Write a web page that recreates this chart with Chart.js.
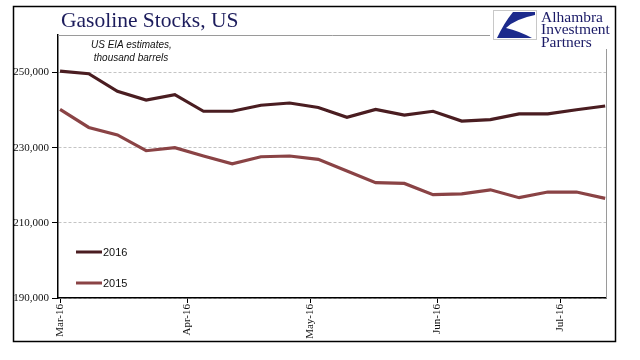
<!DOCTYPE html>
<html>
<head>
<meta charset="utf-8">
<script src="https://cdn.jsdelivr.net/npm/chart.js@4"></script>
<style>
html,body{margin:0;padding:0;background:#fff;}
#wrap{position:relative;width:640px;height:360px;overflow:hidden;}
#c{position:absolute;left:0;top:0;}
#title{position:absolute;left:61px;top:10px;font-family:"Liberation Serif",serif;font-size:21.5px;line-height:21px;color:#1c1c5c;white-space:nowrap;}
#note{position:absolute;left:91px;top:38px;font-family:"Liberation Sans",sans-serif;font-style:italic;font-size:10px;line-height:13px;color:#111;white-space:nowrap;}
#logo{position:absolute;left:490px;top:8px;width:123px;height:41px;background:#fff;}
#logotext{position:absolute;left:51px;top:2.5px;font-family:"Liberation Serif",serif;font-size:15.5px;line-height:12.5px;color:#1a1a66;white-space:nowrap;}
</style>
</head>
<body>
<div id="wrap">
  <canvas id="c" width="640" height="360"></canvas>
  <div id="title">Gasoline Stocks, US</div>
  <div id="note">US EIA estimates,<br>&nbsp;thousand barrels</div>
  <div id="logo">
    <svg width="45" height="31" style="position:absolute;left:3px;top:2px">
      <rect x="0.5" y="0.5" width="43" height="29" fill="#fff" stroke="#c8c8c8"/>
      <path d="M20,2 L42,2 L42,5 Q22,9 13,18 Q26,21 39,28 L4,28 Q11,13 20,2 Z" fill="#1c2a8c"/>
    </svg>
    <div id="logotext">Alhambra<br>Investment<br>Partners</div>
  </div>
</div>
<script>
// ---- data ----
const weekDates = ["2016-03-04","2016-03-11","2016-03-18","2016-03-25","2016-04-01","2016-04-08","2016-04-15","2016-04-22","2016-04-29","2016-05-06",
                   "2016-05-13","2016-05-20","2016-05-27","2016-06-03","2016-06-10","2016-06-17","2016-06-24","2016-07-01","2016-07-08","2016-07-15"];
const stocks2016 = [250400,249700,245000,242700,244100,239700,239700,241300,241900,240700,
                    238100,240200,238700,239700,237100,237500,239000,239000,240100,241100];
const stocks2015 = [240200,235400,233400,229200,230000,227800,225700,227600,227800,226900,
                    223800,220700,220500,217500,217700,218800,216700,218200,218200,216500];
const seriesLabels = ["2016","2015"];
const seriesColors = ["#4a1d21","#8a4345"];
const monthTickDates = ["2016-03-04","2016-04-04","2016-05-04","2016-06-04","2016-07-04"];
const monthTickLabels = ["Mar-16","Apr-16","May-16","Jun-16","Jul-16"];
const yTickValues = [190000,210000,230000,250000];

const dayOffset = d => (Date.parse(d) - Date.parse(weekDates[0])) / 86400000;
const toPoints = vals => weekDates.map((d,i)=>({x:dayOffset(d), y:vals[i]}));

const framePlugin = {
  id:'frame',
  beforeDraw(chart){
    const c = chart.ctx;
    c.save(); c.fillStyle='#fff'; c.fillRect(0,0,chart.width,chart.height); c.restore();
  },
  beforeDatasetsDraw(chart){
    const {ctx:c, chartArea:a} = chart;
    c.save();
    c.strokeStyle='#9a9a9a'; c.lineWidth=1;
    c.beginPath();
    c.moveTo(a.left, a.top+0.5); c.lineTo(a.right+0.5, a.top+0.5); c.lineTo(a.right+0.5, a.bottom);
    c.stroke();
    c.restore();
  },
  afterDraw(chart){
    const c = chart.ctx;
    c.save();
    chart.data.datasets.forEach((ds,i)=>{
      const y = 252 + i*31;
      c.strokeStyle = ds.borderColor; c.lineWidth = 3;
      c.beginPath(); c.moveTo(76,y); c.lineTo(102,y); c.stroke();
      c.fillStyle='#111'; c.font='11px "Liberation Sans"'; c.textBaseline='middle'; c.textAlign='left';
      c.fillText(ds.label, 103, y+0.5);
    });
    c.strokeStyle='#000'; c.lineWidth=1.5;
    c.strokeRect(13.5,6.5,602,335);
    c.restore();
  }
};

new Chart(document.getElementById('c'), {
  type:'line',
  data:{datasets:[
    {label:seriesLabels[0], data:toPoints(stocks2016), borderColor:seriesColors[0], borderWidth:3.2, pointRadius:0, tension:0, fill:false},
    {label:seriesLabels[1], data:toPoints(stocks2015), borderColor:seriesColors[1], borderWidth:3.2, pointRadius:0, tension:0, fill:false}
  ]},
  options:{
    responsive:false, animation:false, devicePixelRatio:1,
    layout:{padding:{top:35,right:34,left:0,bottom:0}},
    plugins:{legend:{display:false}, tooltip:{enabled:false}, title:{display:false}},
    scales:{
      x:{
        type:'linear', min:-0.5, max:133.2,
        afterFit:s=>{s.height=62;},
        afterBuildTicks:s=>{s.ticks=monthTickDates.map(d=>({value:dayOffset(d)}));},
        ticks:{autoSkip:false, minRotation:90, maxRotation:90, padding:1, color:'#111',
               font:{family:'Liberation Serif', size:11},
               callback:(v,i)=>monthTickLabels[i]},
        grid:{drawOnChartArea:false, drawTicks:true, tickLength:5, tickColor:'#000', color:'#000'},
        border:{display:true, color:'#000', width:1.5}
      },
      y:{
        min:190000, max:260000,
        afterFit:s=>{s.width=58;},
        afterBuildTicks:s=>{s.ticks=yTickValues.map(v=>({value:v}));},
        ticks:{padding:3, color:'#111', font:{family:'Liberation Serif', size:11},
               callback:v=>Number(v).toLocaleString('en-US')},
        grid:{color:'#c4c4c4', lineWidth:1, tickColor:'#000', tickLength:6, tickWidth:1},
        border:{display:true, color:'#000', width:1.5, dash:[3,2]}
      }
    }
  },
  plugins:[framePlugin]
});
</script>
</body>
</html>
